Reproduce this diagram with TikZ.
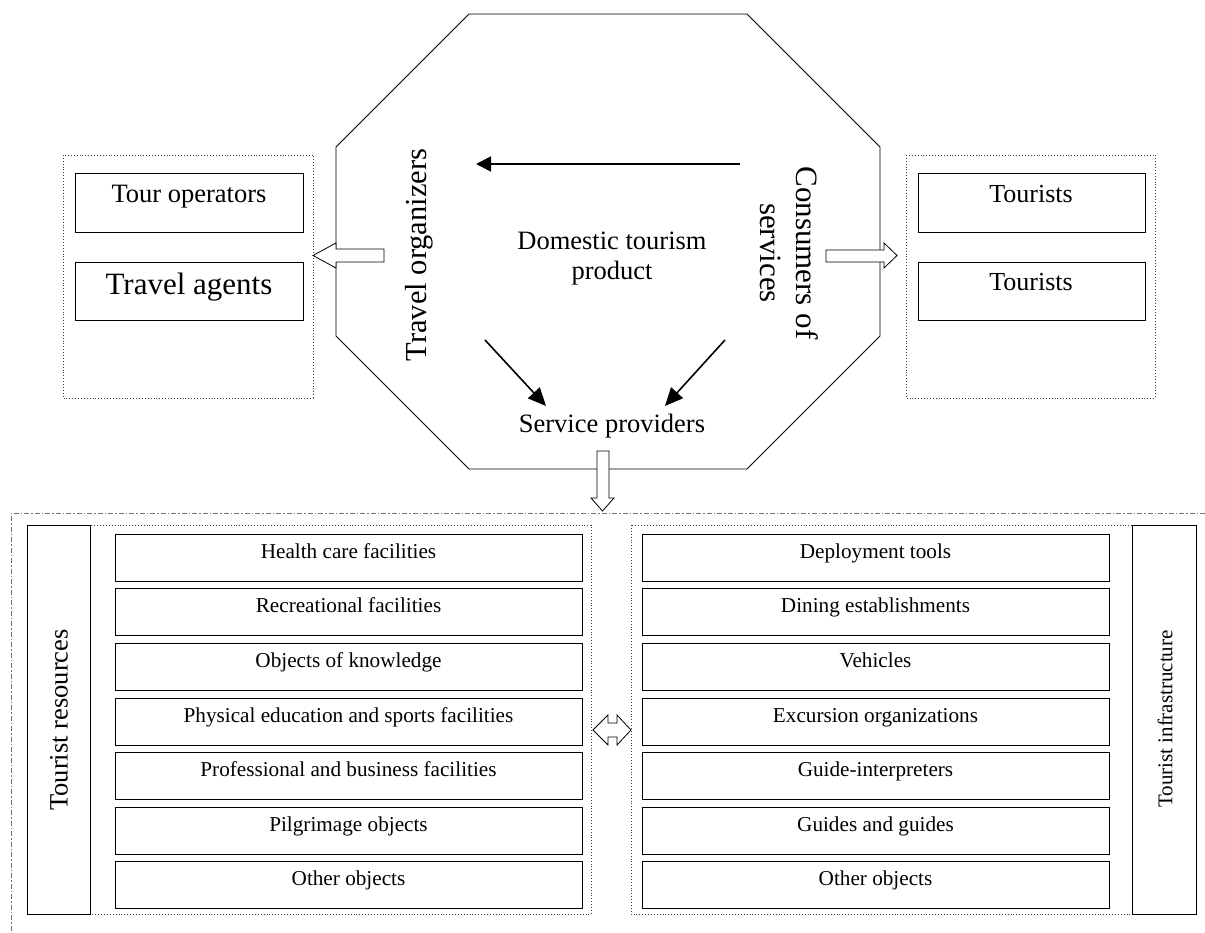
\documentclass[tikz,border=0pt]{standalone}
\usepackage{fontspec}
\setmainfont{Liberation Serif}
\usetikzlibrary{arrows.meta}
\tikzset{
  item/.style={draw, line width=1.2pt, minimum width=467pt, minimum height=47pt, anchor=north west, inner sep=0pt},
  itemtext/.style={font=\fontsize{21.2}{24}\selectfont, inner sep=0pt, anchor=base},
  topbox/.style={draw, line width=1.1pt, inner sep=0pt, anchor=north west},
  dotbox/.style={draw=black!75, dotted, line width=0.9pt},
  labelbox/.style={draw, line width=0.9pt},
  hollow/.style={draw, line width=0.8pt, fill=white},
  blackarrow/.style={line width=1.6pt, -{Triangle[length=18pt,width=16pt]}},
}
\begin{document}
\begin{tikzpicture}[x=1pt,y=-1pt]
\useasboundingbox (0,0) rectangle (1205,933);
% octagon
\draw[line width=0.8pt] (469,14)--(747,14)--(880,147)--(880,336)--(747,469)--(469,469)--(336,336)--(336,147)--cycle;
% octagon texts
\node[rotate=90, font=\fontsize{30.5}{35}\selectfont, inner sep=0pt] (travel) at (419,255) {Travel organizers};
\node[rotate=-90, align=center, font=\fontsize{31}{36}\selectfont, inner sep=0pt] (cons) at (789,253) {Consumers of\\services};
\node[align=center, font=\fontsize{26.5}{30}\selectfont, inner sep=0pt] (dom) at (612,259) {Domestic tourism\\product};
\node[font=\fontsize{26.5}{30}\selectfont, inner sep=0pt, anchor=base] (serv) at (612,432) {Service providers};
% black arrows
\coordinate (h1) at (740,164);
\coordinate (h2) at (476,164);
\draw[line width=1.6pt, -{Triangle[length=15pt,width=15pt]}] (h1) -- (h2);
\coordinate (d1) at (485,340);
\coordinate (d2) at (546,406);
\coordinate (e1) at (725,340);
\coordinate (e2) at (665,406);
\draw[blackarrow] (d1) -- (d2);
\draw[blackarrow] (e1) -- (e2);
% top-left group
\draw[dotbox] (63,155) rectangle (313,398);
\node[topbox, minimum width=228pt, minimum height=59pt] (tour) at (75,173) {};
\node[font=\fontsize{26.5}{30}\selectfont, inner sep=0pt, anchor=base] at (189,203) {Tour operators};
\node[topbox, minimum width=228pt, minimum height=58pt] (agents) at (75,262) {};
\node[font=\fontsize{31}{35}\selectfont, inner sep=0pt, anchor=base] at (189,295) {Travel agents};
% top-right group
\draw[dotbox] (906,155) rectangle (1155,398);
\node[topbox, minimum width=227pt, minimum height=59pt] (t1) at (918,173) {};
\node[font=\fontsize{26}{30}\selectfont, inner sep=0pt, anchor=base] at (1031,203) {Tourists};
\node[topbox, minimum width=227pt, minimum height=58pt] (t2) at (918,262) {};
\node[font=\fontsize{26}{30}\selectfont, inner sep=0pt, anchor=base] at (1031,291) {Tourists};
% hollow arrows
\draw[hollow] (384,249)--(336,249)--(336,243)--(313,255.5)--(336,268)--(336,262)--(384,262)--cycle;
\draw[hollow] (826,250)--(884,250)--(884,243)--(897,255.5)--(884,268)--(884,262)--(826,262)--cycle;
\draw[hollow] (597,451)--(609,451)--(609,498)--(614,498)--(602.5,511)--(591,498)--(597,498)--cycle;
% outer dash-dot frame
\draw[black!55, line width=0.9pt, dash pattern=on 5pt off 2pt on 1.5pt off 2pt] (1205,513)--(11,513)--(11,933);
% bottom groups
\draw[dotbox] (90,525) rectangle (591,914);
\draw[labelbox] (27,525) rectangle (90,914);
\node[rotate=90, font=\fontsize{26.5}{30}\selectfont, inner sep=0pt] (res) at (59,720) {Tourist resources};
\draw[dotbox] (631,525) rectangle (1132,914);
\draw[labelbox] (1132,525) rectangle (1196,914);
\node[rotate=90, font=\fontsize{21}{24}\selectfont, inner sep=0pt] (inf) at (1165,719) {Tourist infrastructure};
% double arrow
\draw[hollow] (608,723)--(617,723)--(617,715)--(631,730)--(617,745)--(617,737)--(608,737)--(608,745)--(593,730)--(608,715)--cycle;
% items
\foreach \t/\a/\b [count=\i] in {534/Health care facilities/Deployment tools,
  588/Recreational facilities/Dining establishments,
  643/Objects of knowledge/Vehicles,
  698/Physical education and sports facilities/Excursion organizations,
  752/Professional and business facilities/Guide-interpreters,
  807/Pilgrimage objects/Guides and guides,
  861/Other objects/Other objects}{
  \node[item] (L\i) at (115,\t) {};
  \node[itemtext] at (348.5,\t+24.5) {\a};
  \node[item] (R\i) at (642,\t) {};
  \node[itemtext] at (875.5,\t+24.5) {\b};
}
\end{tikzpicture}
\end{document}
